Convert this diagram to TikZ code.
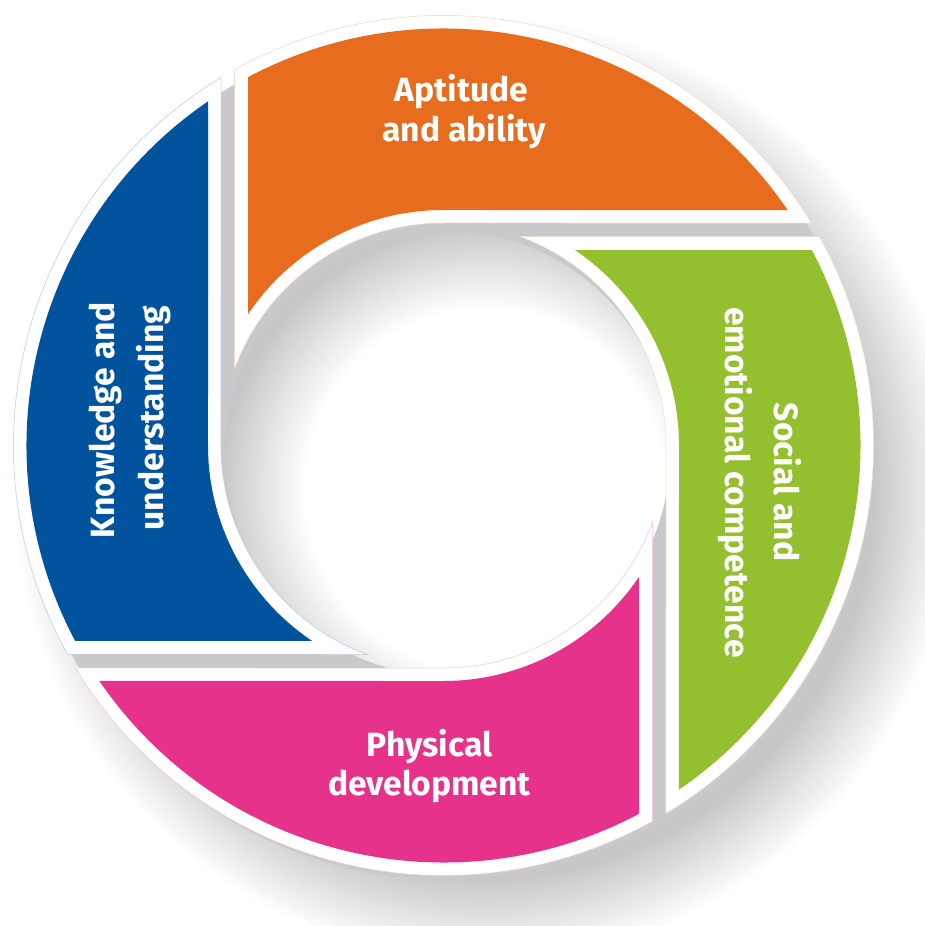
\documentclass[tikz,border=0pt]{standalone}
\usepackage{fontspec}
\setmainfont{Fira Sans}
\definecolor{cOrange}{RGB}{231,108,30}
\definecolor{cGreen}{RGB}{148,192,48}
\definecolor{cPink}{RGB}{230,50,138}
\definecolor{cBlue}{RGB}{2,83,158}
\definecolor{gapgray}{RGB}{201,201,203}
\begin{document}
\begin{tikzpicture}[x=1pt,y=1pt,
  lbl/.style={text=white, font=\bfseries\fontsize{33.6}{40}\selectfont, inner sep=0pt, anchor=base},
  rim/.style={fill=white, line width=0.5pt},
  core/.style={draw=none}]
% canvas
\fill[white] (-443.5,-480.5) rectangle (481.5,445.5);
\useasboundingbox (-443.5,-480.5) rectangle (481.5,445.5);
% geometry
\pgfmathsetmacro\Rw{430}  \pgfmathsetmacro\rw{222.5} \pgfmathsetmacro\aw{209}
\pgfmathsetmacro\Rc{417}  \pgfmathsetmacro\rc{235.5} \pgfmathsetmacro\ac{195.5}
\pgfmathsetmacro\wA{180-acos(\aw/\Rw)}
\pgfmathsetmacro\wB{asin(\rw/\Rw)}
\pgfmathsetmacro\wC{180-acos(\aw/\rw)}
\pgfmathsetmacro\cA{180-acos(\ac/\Rc)}
\pgfmathsetmacro\cB{asin(\rc/\Rc)}
\pgfmathsetmacro\cC{180-acos(\ac/\rc)}
% soft drop shadow
\begin{scope}[shift={(42,-44)}]
  \foreach \i in {0,...,20}{
    \pgfmathsetmacro\dd{40-4*\i}
    \pgfmathsetmacro\pp{22*(\i+1)/21}
    \fill[black!\pp, even odd rule] (0,0) circle[radius=430+\dd] (0,0) circle[radius=222.5-\dd];
  }
\end{scope}
% gray base showing in the gaps
\fill[gapgray, even odd rule] (4,-8) circle[radius=426] (4,-8) circle[radius=222.5];
% segments
\foreach \k/\col in {0/cOrange, 1/cGreen, 2/cPink, 3/cBlue}{
  \begin{scope}[rotate=-90*\k]
    \path[rim, draw=\col!30] (\wA:\Rw) arc[start angle=\wA, end angle=\wB, radius=\Rw]
      -- (90:\rw) arc[start angle=90, end angle=\wC, radius=\rw] -- cycle;
    \fill[\col] (\cA:\Rc) arc[start angle=\cA, end angle=\cB, radius=\Rc]
      -- (90:\rc) arc[start angle=90, end angle=\cC, radius=\rc] -- cycle;
  \end{scope}
}
% labels
\node[lbl] (apt1) at (18,343.8) {Aptitude};
\node[lbl] (apt2) at (20.5,304) {and ability};
\node[lbl, rotate=-90] (soc1) at (330.5,-36.5) {Social and};
\node[lbl, rotate=-90] (soc2) at (281.5,-37) {emotional competence};
\node[lbl] (phy1) at (-14,-311.2) {Physical};
\node[lbl] (phy2) at (-14,-349.5) {development};
\node[lbl, rotate=90] (kno1) at (-328.5,25.5) {Knowledge and};
\node[lbl, rotate=90] (kno2) at (-279.5,27.5) {understanding};
\end{tikzpicture}
\end{document}
